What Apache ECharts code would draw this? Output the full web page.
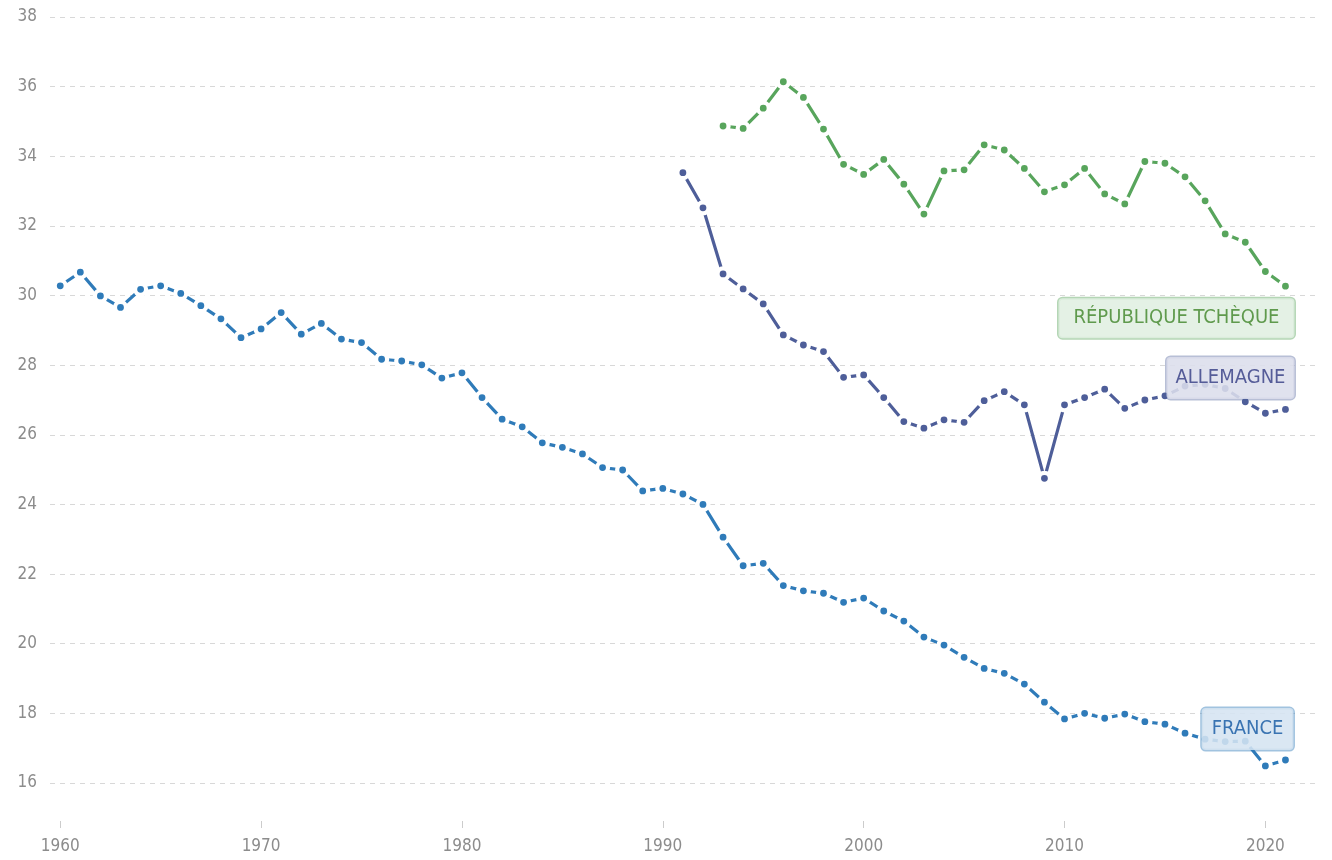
<!DOCTYPE html>
<html>
<head>
<meta charset="utf-8">
<script src="https://cdn.jsdelivr.net/npm/echarts@6/dist/echarts.min.js"></script>
<style>
html,body{margin:0;padding:0;background:#fff;}
#chart{width:1332px;height:860px;}
</style>
</head>
<body>
<div id="chart"></div>
<script>
// ---- data ----
const xTickYears = [1960, 1970, 1980, 1990, 2000, 2010, 2020];
const yTicks = [16, 18, 20, 22, 24, 26, 28, 30, 32, 34, 36, 38];

const franceStart = 1960;
const franceValues = [
  30.28, 30.67, 29.99, 29.66, 30.18, 30.28, 30.06, 29.71, 29.33, 28.79,
  29.04, 29.51, 28.89, 29.20, 28.75, 28.65, 28.17, 28.12, 28.01, 27.63,
  27.78, 27.07, 26.45, 26.23, 25.77, 25.64, 25.45, 25.06, 24.99, 24.39,
  24.46, 24.30, 24.00, 23.06, 22.24, 22.31, 21.67, 21.52, 21.45, 21.19,
  21.31, 20.94, 20.65, 20.19, 19.96, 19.61, 19.29, 19.15, 18.84, 18.32,
  17.84, 18.00, 17.86, 17.98, 17.76, 17.69, 17.43, 17.26, 17.19, 17.20,
  16.49, 16.66
];

const germanyStart = 1991;
const germanyValues = [
  33.53, 32.52, 30.62, 30.19, 29.76, 28.87, 28.58, 28.39, 27.65, 27.72,
  27.07, 26.38, 26.19, 26.43, 26.36, 26.98, 27.24, 26.86, 24.75, 26.86,
  27.07, 27.31, 26.76, 27.00, 27.12, 27.40, 27.45, 27.33, 26.95, 26.62,
  26.73
];

const czechStart = 1993;
const czechValues = [
  34.87, 34.80, 35.38, 36.14, 35.69, 34.78, 33.77, 33.48, 33.91, 33.20,
  32.34, 33.58, 33.61, 34.33, 34.18, 33.65, 32.98, 33.18, 33.65, 32.92,
  32.63, 33.85, 33.80, 33.41, 32.72, 31.77, 31.53, 30.69, 30.27
];

const seriesNames = ['FRANCE', 'ALLEMAGNE', 'RÉPUBLIQUE TCHÈQUE'];

// ---- build ----
const FONT = "'Liberation Sans Narrow', 'DejaVu Sans Condensed', 'Open Sans', sans-serif";

function pairs(start, vals) {
  return vals.map((v, i) => [start + i, v]);
}

function makeSeries(name, start, vals, color, textColor, bg, border, pad, offset) {
  const lastYear = start + vals.length - 1;
  const lastVal = vals[vals.length - 1];
  return {
    name: name,
    type: 'line',
    data: pairs(start, vals),
    symbol: 'circle',
    symbolSize: 11,
    showAllSymbol: true,
    lineStyle: { color: color, width: 3.2 },
    itemStyle: { color: color, borderColor: '#ffffff', borderWidth: 4.2 },
    emphasis: { disabled: true },
    markPoint: {
      symbol: 'circle',
      symbolSize: 1,
      itemStyle: { color: 'rgba(0,0,0,0)' },
      silent: true,
      z: 10,
      data: [{ coord: [lastYear, lastVal] }],
      label: {
        show: true,
        position: 'inside',
        formatter: name,
        align: 'right',
        verticalAlign: 'middle',
        offset: offset,
        fontFamily: FONT,
        fontSize: 20,
        color: textColor,
        backgroundColor: bg,
        borderColor: border,
        borderWidth: 1.5,
        borderRadius: 4,
        padding: pad
      }
    },
    z: 2
  };
}

const chart = echarts.init(document.getElementById('chart'), null, { renderer: 'canvas' });

const option = {
  animation: false,
  backgroundColor: '#ffffff',
  grid: { left: 50, right: 14, top: 17, bottom: 77, containLabel: false },
  xAxis: {
    type: 'value',
    min: 1959.49,
    max: 2022.62,
    offset: 38,
    axisLine: { show: false },
    axisTick: {
      show: true,
      length: 7,
      customValues: xTickYears,
      lineStyle: { color: '#cccccc', width: 1 }
    },
    axisLabel: {
      customValues: xTickYears,
      formatter: v => String(v),
      margin: 17,
      fontFamily: FONT,
      fontSize: 17,
      color: '#8c8c8c'
    },
    splitLine: { show: false }
  },
  yAxis: {
    type: 'value',
    min: yTicks[0],
    max: yTicks[yTicks.length - 1],
    interval: 2,
    axisLine: { show: false },
    axisTick: { show: false },
    axisLabel: {
      margin: 13,
      fontFamily: FONT,
      fontSize: 17,
      color: '#8c8c8c'
    },
    splitLine: {
      show: true,
      lineStyle: { color: '#d8d8d8', width: 1, type: [5, 5] }
    }
  },
  series: [
    makeSeries(seriesNames[0], franceStart, franceValues, '#2f7bb9', '#3a74b2',
      'rgba(213,228,241,0.88)', 'rgba(47,123,185,0.45)', [11, 10, 11, 10], [8, -31]),
    makeSeries(seriesNames[1], germanyStart, germanyValues, '#4e5e99', '#555c98',
      'rgba(220,222,236,0.88)', 'rgba(78,94,153,0.4)', [11, 9, 11, 9], [9, -31.5]),
    makeSeries(seriesNames[2], czechStart, czechValues, '#58a55c', '#5f9a4d',
      'rgba(224,239,225,0.88)', 'rgba(88,165,92,0.45)', [10, 15, 10, 15], [9, 32])
  ]
};

chart.setOption(option);
</script>
</body>
</html>
